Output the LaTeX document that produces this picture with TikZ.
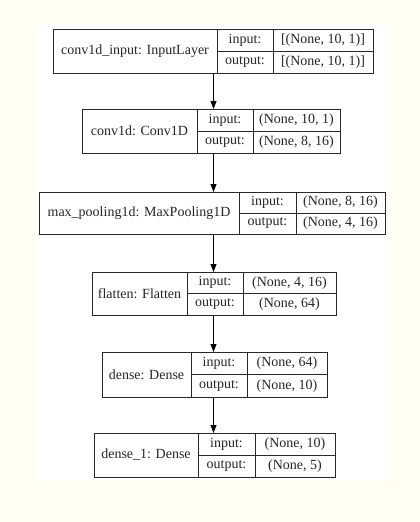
\documentclass[tikz,border=0pt]{standalone}
\usepackage{fontspec}
\setmainfont{Liberation Serif}
\usetikzlibrary{arrows.meta}
\definecolor{cream}{RGB}{255,254,240}
\definecolor{edge}{RGB}{40,40,40}
\tikzset{
  cellline/.style={draw=edge, line width=0.9pt},
  txt/.style={font=\fontsize{14}{16}\selectfont, inner sep=0pt, text=black!85},
  flow/.style={draw=black, line width=0.9pt, -{Triangle[length=8pt,width=6pt]}}
}
% #1 name, #2 left, #3 top, #4 right, #5 bottom, #6 div1, #7 div2, #8 title, #9 input value
\newcommand{\mylayer}[9]{%
  \node[cellline, anchor=north west, inner sep=0pt, minimum width={(#4-#2)*1pt}, minimum height={(#5-#3)*1pt}] (#1) at (#2,#3) {};
  \draw[cellline] (#6,#3) -- (#6,#5);
  \draw[cellline] (#7,#3) -- (#7,#5);
  \draw[cellline] (#6,{(#3+#5)/2}) -- (#4,{(#3+#5)/2});
  \node[txt] (#1-title) at ({(#2+#6)/2},{(#3+#5)/2}) {#8};
  \node[txt] (#1-inl) at ({(#6+#7)/2},{(3*#3+#5)/4}) {input:};
  \node[txt] (#1-outl) at ({(#6+#7)/2},{(#3+3*#5)/4}) {output:};
  \node[txt] (#1-inv) at ({(#7+#4)/2},{(3*#3+#5)/4}) {#9};
  \def\curnm{#1}\def\curx{{(#7+#4)/2}}\def\cury{{(#3+3*#5)/4}}%
  \mylayerout}
\newcommand{\mylayerout}[1]{\node[txt] (\curnm-outv) at (\curx,\cury) {#1};}
\begin{document}
\begin{tikzpicture}[x=1pt,y=-1pt]
\fill[cream] (0,0) rectangle (420,522);
\fill[white] (35,25) rectangle (392,481);
\useasboundingbox (0,0) rectangle (420,522);

\mylayer{l1}{53}{29}{373}{73}{217}{273}{conv1d\_input: InputLayer}{[(None, 10, 1)]}{[(None, 10, 1)]}
\mylayer{l2}{82}{109}{340}{153}{197}{253}{conv1d: Conv1D}{(None, 10, 1)}{(None, 8, 16)}
\mylayer{l3}{39}{192}{385}{234}{239}{296}{max\_pooling1d: MaxPooling1D}{(None, 8, 16)}{(None, 4, 16)}
\mylayer{l4}{92}{272}{336}{315}{187}{243}{flatten: Flatten}{(None, 4, 16)}{(None, 64)}
\mylayer{l5}{102}{352}{327}{397}{191}{247}{dense: Dense}{(None, 64)}{(None, 10)}
\mylayer{l6}{94}{433}{335}{477}{198}{255}{dense\_1: Dense}{(None, 10)}{(None, 5)}

\coordinate (ax) at (213.5,0);
\draw[flow] (l1.south -| ax) -- (l2.north -| ax);
\draw[flow] (l2.south -| ax) -- (l3.north -| ax);
\draw[flow] (l3.south -| ax) -- (l4.north -| ax);
\draw[flow] (l4.south -| ax) -- (l5.north -| ax);
\draw[flow] (l5.south -| ax) -- (l6.north -| ax);
\end{tikzpicture}
\end{document}
